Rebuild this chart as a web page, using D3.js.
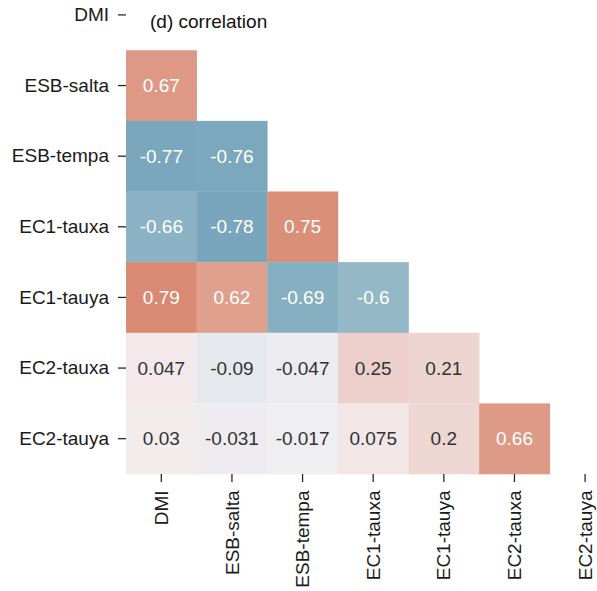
<!DOCTYPE html>
<html>
<head>
<meta charset="utf-8">
<script src="https://cdn.jsdelivr.net/npm/d3@7"></script>
<style>
  html, body { margin: 0; padding: 0; background: #fff; overflow: hidden; }
  svg { display: block; font-family: "Liberation Sans", Arial, sans-serif; }
</style>
</head>
<body>
<svg id="chart" width="597" height="591"></svg>
<script>
// Variables of the correlation matrix (rows top→bottom, columns left→right)
const variables = ["DMI", "ESB-salta", "ESB-tempa", "EC1-tauxa", "EC1-tauya", "EC2-tauxa", "EC2-tauya"];

// Lower-triangle correlations, one array per row (diagonal and above are masked)
const rowDMI      = [];
const rowESBsalta = [0.67];
const rowESBtempa = [-0.77, -0.76];
const rowEC1tauxa = [-0.66, -0.78, 0.75];
const rowEC1tauya = [0.79, 0.62, -0.69, -0.6];
const rowEC2tauxa = [0.047, -0.09, -0.047, 0.25, 0.21];
const rowEC2tauya = [0.03, -0.031, -0.017, 0.075, 0.2, 0.66];

const rows = [rowDMI, rowESBsalta, rowESBtempa, rowEC1tauxa, rowEC1tauya, rowEC2tauxa, rowEC2tauya];
const titleText = "(d) correlation";

const cells = [];
rows.forEach((vals, i) => vals.forEach((v, j) => cells.push({ row: variables[i], col: variables[j], value: v })));

const svg = d3.select("#chart");

const fontSize = 19;
const cellSize = 70.63;
const gridLeft = 126, gridTop = -20.4;

const x = d3.scaleBand().domain(variables).range([gridLeft, gridLeft + cellSize * variables.length]).padding(0);
const y = d3.scaleBand().domain(variables).range([gridTop, gridTop + cellSize * variables.length]).padding(0);

// Diverging blue–light–salmon palette, vmin -1 / vmax 1
const color = d3.scaleLinear()
  .domain([-1, -0.09, -0.03, 0, 0.05, 1])
  .range(["rgb(86,145,172)", "rgb(229,233,238)", "rgb(238,236,241)", "rgb(240,241,242)", "rgb(243,233,234)", "rgb(209,111,80)"])
  .interpolate(d3.interpolateRgb)
  .clamp(true);

svg.append("g")
  .selectAll("rect")
  .data(cells)
  .join("rect")
  .attr("x", d => x(d.col))
  .attr("y", d => y(d.row))
  .attr("width", x.bandwidth() + 0.3)
  .attr("height", y.bandwidth() + 0.3)
  .attr("fill", d => color(d.value));

// Annotations: white on strong cells, dark on light ones
svg.append("g")
  .selectAll("text")
  .data(cells)
  .join("text")
  .attr("x", d => x(d.col) + x.bandwidth() / 2)
  .attr("y", d => y(d.row) + y.bandwidth() / 2)
  .attr("dy", "0.35em")
  .attr("text-anchor", "middle")
  .attr("font-size", fontSize)
  .attr("fill", d => Math.abs(d.value) > 0.45 ? "#ffffff" : "#333333")
  .text(d => String(d.value));

// Left axis
const yAxis = svg.append("g")
  .attr("transform", `translate(${gridLeft},0)`)
  .call(d3.axisLeft(y).tickSize(8).tickPadding(9));
yAxis.select(".domain").remove();
yAxis.selectAll(".tick line").attr("stroke", "#222").attr("stroke-width", 1.25);
yAxis.selectAll(".tick text")
  .attr("font-size", fontSize)
  .attr("font-family", "Liberation Sans, Arial, sans-serif")
  .attr("fill", "#1a1a1a");

// Bottom axis with vertical labels
const gridBottom = gridTop + cellSize * variables.length;
const xAxis = svg.append("g")
  .attr("transform", `translate(0,${gridBottom})`)
  .call(d3.axisBottom(x).tickSize(8).tickPadding(8));
xAxis.select(".domain").remove();
xAxis.selectAll(".tick line").attr("stroke", "#222").attr("stroke-width", 1.25);
xAxis.selectAll(".tick text")
  .attr("font-size", fontSize)
  .attr("font-family", "Liberation Sans, Arial, sans-serif")
  .attr("fill", "#1a1a1a")
  .attr("transform", "rotate(-90)")
  .attr("text-anchor", "end")
  .attr("x", -16.5)
  .attr("y", 0)
  .attr("dy", "0.35em");

// Title
svg.append("text")
  .attr("x", 150)
  .attr("y", 28)
  .attr("font-size", fontSize)
  .attr("fill", "#111")
  .text(titleText);
</script>
</body>
</html>
